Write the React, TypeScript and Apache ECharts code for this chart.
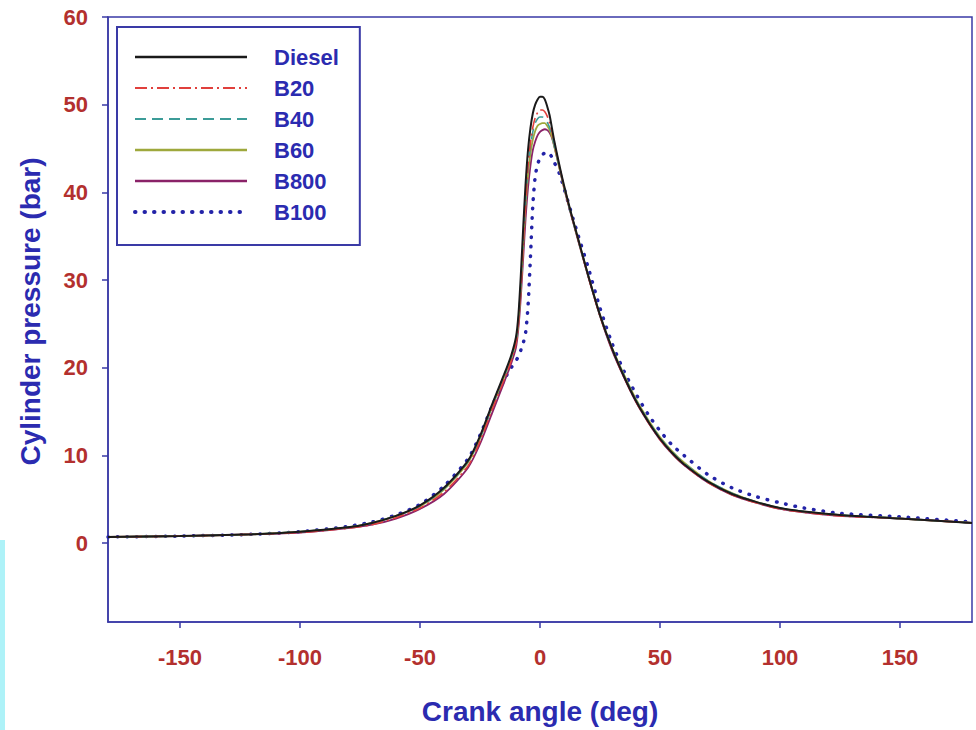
import React, { useEffect, useRef } from "react";
import * as echarts from "echarts";

const angles = [-180, -150, -120, -100, -80, -70, -60, -50, -40, -30, -25, -20, -15, -12, -10, -9, -8, -7, -6, -5, -4, -3, -2, -1, 0, 1, 2, 3, 4, 5, 6, 8, 10, 13, 16, 20, 25, 30, 35, 40, 45, 50, 55, 60, 70, 80, 90, 100, 110, 125, 150, 180];

const diesel = [0.7, 0.8, 1.0, 1.3, 1.8, 2.3, 3.1, 4.3, 6.3, 9.4, 12.2, 15.8, 19.2, 21.4, 23.5, 26.0, 30.5, 36.0, 41.0, 44.8, 47.3, 49.0, 50.0, 50.6, 50.9, 50.9, 50.6, 49.8, 48.8, 47.3, 45.8, 43.2, 40.8, 37.6, 34.6, 30.6, 26.0, 22.2, 19.0, 16.2, 13.9, 11.9, 10.3, 9.0, 7.0, 5.6, 4.7, 4.0, 3.6, 3.2, 2.8, 2.3];
const b20 = [0.7, 0.8, 1.0, 1.2, 1.7, 2.1, 2.9, 4.0, 5.8, 8.8, 11.6, 15.2, 18.6, 20.8, 22.8, 25.0, 29.0, 34.0, 39.0, 43.0, 45.6, 47.4, 48.5, 49.1, 49.4, 49.4, 49.2, 48.7, 47.9, 46.9, 45.6, 43.1, 40.7, 37.5, 34.5, 30.5, 25.9, 22.1, 18.9, 16.1, 13.8, 11.8, 10.2, 8.9, 6.9, 5.5, 4.6, 3.9, 3.5, 3.1, 2.8, 2.3];
const b40 = [0.7, 0.8, 1.0, 1.3, 1.8, 2.3, 3.1, 4.2, 6.2, 9.3, 12.0, 15.6, 19.0, 21.2, 23.2, 25.5, 29.5, 34.5, 39.2, 42.8, 45.2, 46.9, 47.9, 48.4, 48.6, 48.6, 48.4, 48.0, 47.4, 46.5, 45.3, 43.0, 40.6, 37.5, 34.5, 30.6, 26.0, 22.2, 19.1, 16.3, 14.0, 12.0, 10.4, 9.1, 7.1, 5.7, 4.7, 4.0, 3.6, 3.2, 2.8, 2.3];
const b60 = [0.7, 0.8, 1.0, 1.3, 1.8, 2.3, 3.1, 4.2, 6.1, 9.2, 11.9, 15.5, 18.9, 21.0, 23.0, 25.2, 29.0, 34.0, 38.6, 42.0, 44.4, 46.0, 47.0, 47.6, 47.8, 47.9, 47.9, 47.6, 47.1, 46.3, 45.2, 42.9, 40.6, 37.5, 34.5, 30.6, 26.0, 22.3, 19.2, 16.4, 14.1, 12.1, 10.5, 9.2, 7.1, 5.7, 4.7, 4.0, 3.6, 3.2, 2.8, 2.3];
const b800 = [0.7, 0.8, 1.0, 1.2, 1.7, 2.1, 2.8, 3.9, 5.6, 8.6, 11.3, 14.8, 18.3, 20.5, 22.3, 24.5, 28.0, 32.5, 37.0, 40.5, 43.0, 44.8, 45.8, 46.5, 46.9, 47.1, 47.2, 47.1, 46.8, 46.2, 45.2, 42.9, 40.5, 37.4, 34.4, 30.5, 25.9, 22.0, 18.9, 16.1, 13.8, 11.8, 10.2, 8.9, 6.9, 5.5, 4.6, 3.9, 3.5, 3.1, 2.8, 2.3];
const b100 = [0.7, 0.8, 1.0, 1.3, 1.9, 2.4, 3.2, 4.4, 6.5, 9.6, 12.3, 15.6, 18.6, 20.0, 20.8, 21.3, 22.0, 22.8, 24.0, 27.0, 32.5, 38.5, 41.8, 43.2, 43.9, 44.3, 44.5, 44.6, 44.4, 44.0, 43.4, 42.2, 40.5, 37.7, 35.0, 31.5, 26.8, 22.8, 19.6, 17.0, 14.7, 12.8, 11.2, 10.0, 7.8, 6.3, 5.3, 4.6, 4.0, 3.4, 3.0, 2.4];

const seriesNames = ["Diesel", "B20", "B40", "B60", "B800", "B100"];
const xTicks = [-150, -100, -50, 0, 50, 100, 150];
const yTicks = [0, 10, 20, 30, 40, 50, 60];

const frame = "#3a3aa6";
const labelRed = "#b3302e";
const titleBlue = "#2b2bb0";
const font = "Liberation Sans, Arial, sans-serif";

export default function App() {
  const ref = useRef<HTMLDivElement>(null);
  useEffect(() => {
    if (!ref.current) return;
    const chart = echarts.init(ref.current, undefined, { renderer: "svg" });
    const zip = (vals: number[]) => angles.map((a, i) => [a, vals[i]]);
    const styles: any[] = [
      { color: "#1a1a1a", width: 2, type: "solid" },
      { color: "#e0403c", width: 1.6, type: [12, 4, 2, 4] },
      { color: "#3c9c98", width: 1.6, type: [11, 6] },
      { color: "#9ea83c", width: 1.8, type: "solid" },
      { color: "#8a2268", width: 1.8, type: "solid" },
      { color: "#2323a8", width: 3.5, type: [0.5, 9], cap: "round" },
    ];
    const legendWidths = [2.6, 2.2, 2.2, 2.6, 2.4, 4];
    const data = [diesel, b20, b40, b60, b800, b100];
    chart.setOption({
      animation: false,
      backgroundColor: "#ffffff",
      grid: {
        left: 108,
        right: 4,
        top: 17,
        bottom: 108,
        show: true,
        borderColor: frame,
        borderWidth: 1.5,
        containLabel: false,
      },
      legend: {
        orient: "vertical",
        left: 117,
        top: 27,
        itemWidth: 112,
        itemHeight: 14,
        itemGap: 9,
        padding: [19, 21, 22, 16],
        borderColor: frame,
        borderWidth: 2,
        backgroundColor: "#ffffff",
        data: seriesNames.map((name, i) => ({
          name,
          lineStyle: { ...styles[i], width: legendWidths[i] },
        })),
        itemStyle: { color: "transparent", borderWidth: 0, opacity: 0 },
        textStyle: {
          fontFamily: font,
          fontWeight: "bold",
          fontSize: 22,
          lineHeight: 22,
          color: titleBlue,
          padding: [0, 0, 0, 22],
        },
      },
      xAxis: {
        type: "value",
        min: -180,
        max: 180,
        name: "Crank angle (deg)",
        nameLocation: "middle",
        nameGap: 75,
        nameTextStyle: { fontFamily: font, fontWeight: "bold", fontSize: 28, color: titleBlue },
        axisLine: { show: true, onZero: false, lineStyle: { color: frame, width: 1.5 } },
        axisTick: { show: true, inside: false, length: 6, customValues: xTicks, lineStyle: { color: frame, width: 1.5 } },
        axisLabel: {
          customValues: xTicks,
          margin: 24,
          fontFamily: font,
          fontWeight: "bold",
          fontSize: 22,
          color: labelRed,
        },
        splitLine: { show: false },
      },
      yAxis: {
        type: "value",
        min: -9,
        max: 60,
        name: "Cylinder pressure (bar)",
        nameLocation: "middle",
        nameGap: 64,
        nameRotate: 90,
        nameTextStyle: {
          fontFamily: font,
          fontWeight: "bold",
          fontSize: 28,
          color: titleBlue,
          padding: [0, 0, 0, 16],
        },
        axisLine: { show: true, onZero: false, lineStyle: { color: frame, width: 1.5 } },
        axisTick: { show: true, inside: false, length: 6, customValues: yTicks, lineStyle: { color: frame, width: 1.5 } },
        axisLabel: {
          customValues: yTicks,
          margin: 20,
          fontFamily: font,
          fontWeight: "bold",
          fontSize: 22,
          color: labelRed,
        },
        splitLine: { show: false },
      },
      graphic: [
        {
          type: "rect",
          left: 0,
          top: 540,
          shape: { width: 5, height: 190 },
          style: { fill: "#aef2f8" },
          silent: true,
        },
      ],
      series: seriesNames.map((name, i) => ({
        name,
        type: "line",
        data: zip(data[i]),
        showSymbol: false,
        symbol: "none",
        smooth: 0.25,
        z: 10 - i,
        itemStyle: { color: styles[i].color },
        lineStyle: styles[i],
      })),
    });
    return () => chart.dispose();
  }, []);
  return (
    <div
      ref={ref}
      style={{ position: "fixed", left: 0, top: 0, width: 976, height: 730 }}
    />
  );
}
